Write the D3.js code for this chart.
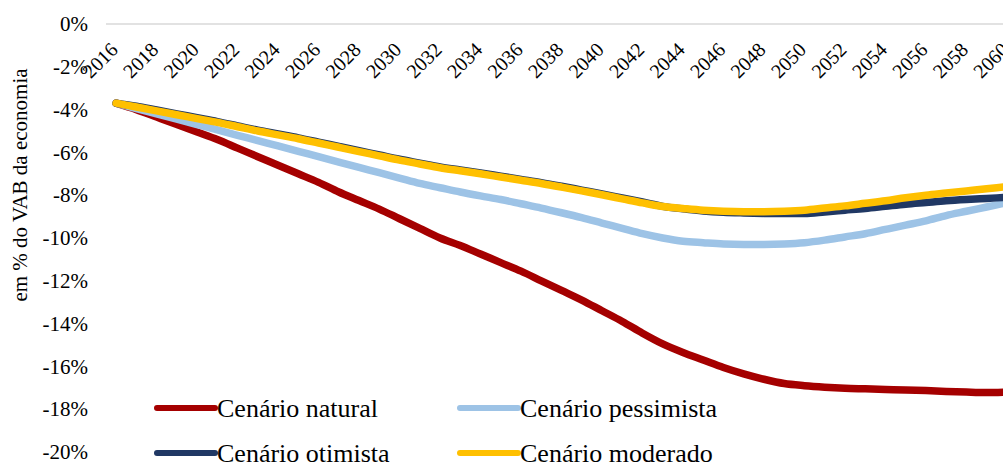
<!DOCTYPE html>
<html>
<head>
<meta charset="utf-8">
<script src="https://cdn.jsdelivr.net/npm/d3@7"></script>
</head>
<body style="margin:0; background:#fff">
<div id="chart"></div>
<script>
// years on the category axis
const years = d3.range(2016, 2061)
const yearLabels = years.filter(d => d % 2 == 0)
const yTicks = [0, -2, -4, -6, -8, -10, -12, -14, -16, -18, -20]

// values, in % of VAB
const natural = [-3.7, -4.0, -4.35, -4.7, -5.05, -5.4, -5.8, -6.2, -6.6, -7.0,
  -7.4, -7.85, -8.25, -8.65, -9.1, -9.55, -10.0, -10.35, -10.75, -11.15,
  -11.55, -12.0, -12.45, -12.9, -13.4, -13.9, -14.45, -14.95, -15.35, -15.7,
  -16.05, -16.35, -16.6, -16.8, -16.9, -16.97, -17.02, -17.05, -17.08, -17.1,
  -17.13, -17.17, -17.2, -17.22, -17.2]
const pessimista = [-3.7, -3.95, -4.2, -4.45, -4.7, -4.95, -5.2, -5.45, -5.7, -5.95,
  -6.2, -6.45, -6.7, -6.95, -7.2, -7.45, -7.65, -7.85, -8.03, -8.2,
  -8.4, -8.6, -8.82, -9.05, -9.3, -9.55, -9.8, -10.0, -10.15, -10.22,
  -10.28, -10.3, -10.3, -10.28, -10.22, -10.1, -9.95, -9.8, -9.6, -9.4,
  -9.2, -8.95, -8.75, -8.55, -8.35]
const otimista = [-3.7, -3.84, -4.02, -4.2, -4.38, -4.56, -4.76, -4.96, -5.14, -5.32,
  -5.52, -5.72, -5.92, -6.12, -6.32, -6.5, -6.68, -6.82, -6.96, -7.11,
  -7.26, -7.41, -7.58, -7.76, -7.94, -8.13, -8.32, -8.52, -8.64, -8.74,
  -8.8, -8.83, -8.85, -8.86, -8.85, -8.78, -8.7, -8.62, -8.52, -8.42,
  -8.34, -8.26, -8.2, -8.15, -8.1]
const moderado = [-3.7, -3.88, -4.06, -4.24, -4.42, -4.6, -4.8, -5.0, -5.18, -5.36,
  -5.56, -5.76, -5.96, -6.16, -6.36, -6.54, -6.72, -6.86, -7.0, -7.15,
  -7.3, -7.45, -7.62, -7.8, -7.98, -8.17, -8.36, -8.53, -8.62, -8.7,
  -8.75, -8.77, -8.77, -8.75, -8.7, -8.6, -8.5, -8.38, -8.26, -8.12,
  -8.0, -7.9, -7.8, -7.7, -7.6]

const seriesNames = ["Cenário natural", "Cenário pessimista", "Cenário otimista", "Cenário moderado"]
const seriesColors = ["#A50000", "#9DC3E6", "#203864", "#FFC000"]
const seriesValues = [natural, pessimista, otimista, moderado]

const width = 1003
const height = 463
const font = "Liberation Serif"

const svg = d3.select("#chart").append("svg")
  .attr("width", width)
  .attr("height", height)
  .style("display", "block")

// plot runs past the right edge, like the original
let x = d3.scalePoint().domain(years).range([106, 1017]).padding(0.5)
let y = d3.scaleLinear().domain([0, -20]).range([24, 452])

// zero gridline
svg.append("line")
  .attr("x1", 106).attr("x2", 1017)
  .attr("y1", y(0)).attr("y2", y(0))
  .attr("stroke", "#D9D9D9")
  .attr("stroke-width", 1.5)

// y axis labels
let yAxis = svg.append("g")
  .attr("transform", "translate(88,0)")
  .call(d3.axisLeft(y).tickValues(yTicks).tickSize(0).tickPadding(0).tickFormat(d => d + "%"))
yAxis.select(".domain").remove()
yAxis.selectAll("text")
  .attr("font-family", font)
  .attr("font-size", 21)
  .attr("fill", "#000")

// x axis labels, rotated
let xAxis = svg.append("g")
  .call(d3.axisBottom(x).tickValues(yearLabels).tickSize(0))
xAxis.select(".domain").remove()
xAxis.selectAll(".tick").attr("transform", d => "translate(" + (x(d) + 3) + ",51)")
xAxis.selectAll("text")
  .attr("y", 0).attr("dy", 0).attr("x", 0)
  .attr("transform", "rotate(-45)")
  .attr("text-anchor", "end")
  .attr("font-family", font)
  .attr("font-size", 20)
  .attr("fill", "#000")

// y axis title
svg.append("text")
  .attr("transform", "translate(27,185) rotate(-90)")
  .attr("text-anchor", "middle")
  .attr("font-family", font)
  .attr("font-size", 21)
  .text("em % do VAB da economia")

// lines
let line = d3.line()
  .x((d, i) => x(years[i]))
  .y(d => y(d))
  .curve(d3.curveMonotoneX)

svg.append("g").selectAll("path")
  .data(seriesValues)
  .enter().append("path")
  .attr("d", line)
  .attr("fill", "none")
  .attr("stroke", (d, i) => seriesColors[i])
  .attr("stroke-width", 7.5)
  .attr("stroke-linecap", "round")
  .attr("stroke-linejoin", "round")

// legend, 2 x 2
let legendPos = [[157, 408], [460, 408], [157, 453], [460, 453]]
let legend = svg.append("g").selectAll("g")
  .data(seriesNames)
  .enter().append("g")
  .attr("transform", (d, i) => "translate(" + legendPos[i][0] + "," + legendPos[i][1] + ")")

legend.append("line")
  .attr("x1", 0).attr("x2", 58)
  .attr("stroke", (d, i) => seriesColors[i])
  .attr("stroke-width", 6)
  .attr("stroke-linecap", "round")

legend.append("text")
  .attr("x", 60)
  .attr("y", 8.5)
  .attr("font-family", font)
  .attr("font-size", 26)
  .text(d => d)
</script>
</body>
</html>
